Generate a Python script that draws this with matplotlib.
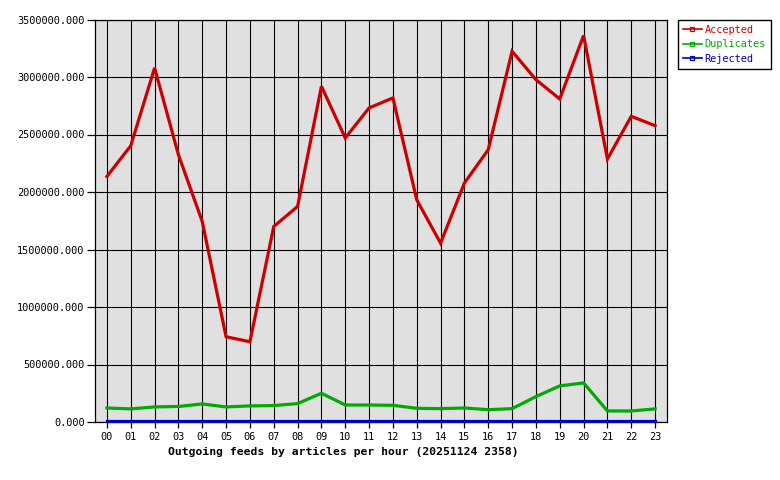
import matplotlib
matplotlib.use("Agg")
import matplotlib.pyplot as plt
from matplotlib.lines import Line2D
from matplotlib.ticker import FuncFormatter, MultipleLocator

hours = ["00", "01", "02", "03", "04", "05", "06", "07", "08", "09", "10", "11",
         "12", "13", "14", "15", "16", "17", "18", "19", "20", "21", "22", "23"]

accepted = [2135000, 2402000, 3079000, 2324000, 1743000, 741000, 698000, 1700000,
            1874000, 2919000, 2470000, 2731000, 2818000, 1932000, 1555000, 2078000,
            2368000, 3224000, 2977000, 2809000, 3361000, 2287000, 2658000, 2577000]

duplicates = [122000, 114000, 131000, 135000, 157000, 131000, 140000, 143000,
              160000, 250000, 148000, 148000, 145000, 119000, 116000, 122000,
              107000, 116000, 221000, 314000, 340000, 96000, 96000, 114000]

rejected = [10000] * 24

series_names = ["Accepted", "Duplicates", "Rejected"]
series_colors = ["#CC0000", "#00AA00", "#0000BB"]

title = "Outgoing feeds by articles per hour (20251124 2358)"

plt.rcParams['font.family'] = ['DejaVu Sans Mono']

W, H = 780, 480
fig = plt.figure(figsize=(W / 100, H / 100), dpi=100, facecolor="white")
ax = fig.add_axes([95 / W, 1 - 422 / H, (667 - 95) / W, (422 - 19.5) / H])
ax.set_facecolor("#E0E0E0")

x = list(range(len(hours)))
for vals, name, col in zip([accepted, duplicates, rejected], series_names, series_colors):
    ax.plot(x, vals, color=col, lw=2.3, solid_joinstyle="miter", zorder=3,
            label=name, clip_on=False)

ax.set_xlim(-0.5, 23.5)
ax.set_ylim(0, 3500000)
ax.set_xticks(x)
ax.set_xticklabels(hours)
ax.yaxis.set_major_locator(MultipleLocator(500000))
ax.yaxis.set_major_formatter(FuncFormatter(lambda v, p: "%.3f" % v))

ax.grid(True, color="black", lw=0.8, zorder=1)
ax.set_axisbelow(True)
for s in ax.spines.values():
    s.set_color("black")
    s.set_linewidth(0.9)
    s.set_zorder(2)

ax.tick_params(axis="y", length=6, width=0.9, pad=1.5, labelsize=7.4, colors="black")
ax.tick_params(axis="x", length=4, width=0.9, pad=3, labelsize=7.4, colors="black")

handles = [Line2D([], [], color=c, lw=1.2, marker="s", markersize=3,
                  markerfacecolor="none", markeredgewidth=0.9)
           for c in series_colors]
leg = fig.legend(handles, series_names, loc="upper left",
                 bbox_to_anchor=(678 / W, 1 - 19.5 / H),
                 bbox_transform=fig.transFigure,
                 fancybox=False, framealpha=1, edgecolor="black",
                 fontsize=7.4, handlelength=1.8, handletextpad=0.3,
                 labelspacing=0.45, borderpad=0.5, borderaxespad=0,
                 numpoints=1, labelcolor=series_colors)
leg.get_frame().set_linewidth(1.0)

fig.text(343 / W, 1 - 452 / H, title, ha="center", va="center",
         fontsize=8.2, fontweight="bold", color="black")

fig.savefig("out.png", dpi=100, facecolor="white")
